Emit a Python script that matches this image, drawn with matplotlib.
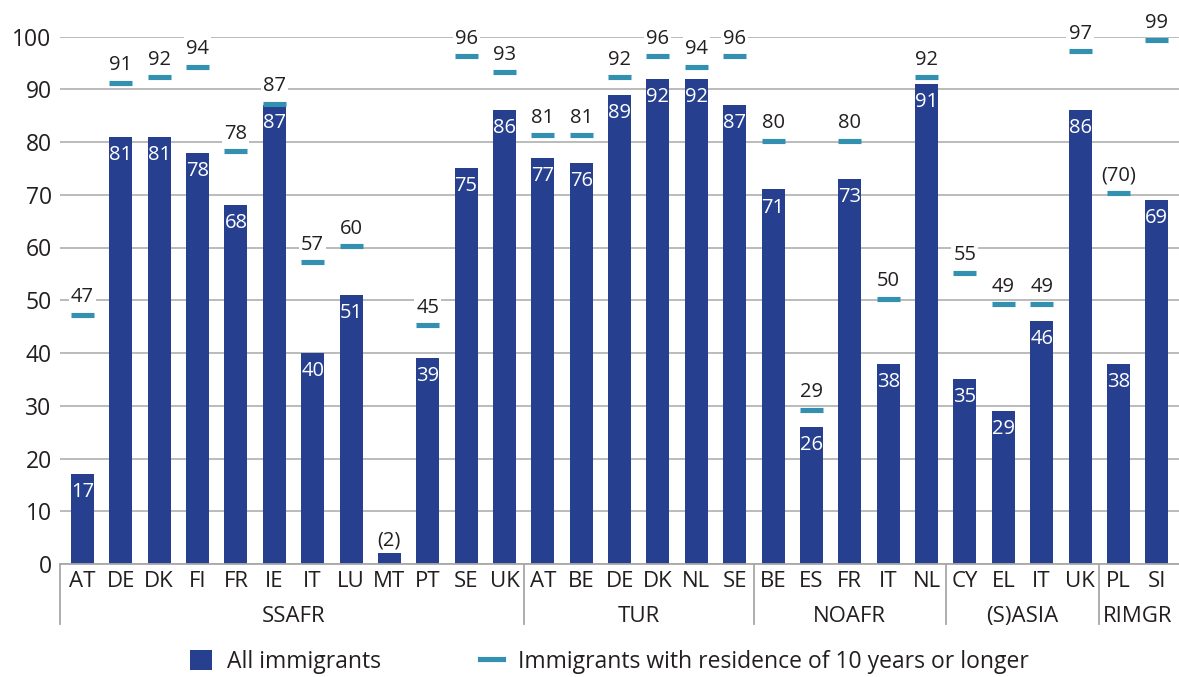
import matplotlib
matplotlib.use("Agg")
import matplotlib.pyplot as plt
from matplotlib.patches import Patch
from matplotlib.lines import Line2D

plt.rcParams["font.family"] = ["Open Sans", "DejaVu Sans"]

# data
groups = ["SSAFR", "TUR", "NOAFR", "(S)ASIA", "RIMGR"]
countries = [
    ["AT", "DE", "DK", "FI", "FR", "IE", "IT", "LU", "MT", "PT", "SE", "UK"],
    ["AT", "BE", "DE", "DK", "NL", "SE"],
    ["BE", "ES", "FR", "IT", "NL"],
    ["CY", "EL", "IT", "UK"],
    ["PL", "SI"],
]
all_immigrants = [17, 81, 81, 78, 68, 87, 40, 51, 2, 39, 75, 86,
                  77, 76, 89, 92, 92, 87,
                  71, 26, 73, 38, 91,
                  35, 29, 46, 86,
                  38, 69]
long_residence = [47, 91, 92, 94, 78, 87, 57, 60, None, 45, 96, 93,
                  81, 81, 92, 96, 94, 96,
                  80, 29, 80, 50, 92,
                  55, 49, 49, 97,
                  70, 99]
# values shown in brackets (low reliability)
bracketed_all = ["MT"]
bracketed_long = ["PL"]

BAR = "#263f8e"
DASH = "#3390b1"
GRID = "#a8a8a8"
TXT = "#231f20"

labels = [c for g in countries for c in g]
x = list(range(len(labels)))

fig = plt.figure(figsize=(11.79, 6.77), dpi=100)
ax = fig.add_axes([60 / 1179, 1 - 564 / 677, 1 - 60 / 1179, (564 - 36.5) / 677])

ax.set_axisbelow(True)
ax.yaxis.grid(True, color=GRID, linewidth=1.1)
ax.bar(x, all_immigrants, width=0.6, color=BAR, zorder=2)

for i, (v, lab) in enumerate(zip(all_immigrants, labels)):
    if lab in bracketed_all:
        ax.annotate(f"({v})", (i, v), xytext=(0, 9), textcoords="offset points",
                    ha="center", va="center", fontsize=14.5, color=TXT, zorder=4)
    else:
        ax.annotate(str(v), (i, v), xytext=(0, -13), textcoords="offset points",
                    ha="center", va="center", fontsize=14.5, color="white", zorder=4)

for i, v in enumerate(long_residence):
    if v is None:
        continue
    ax.hlines(v + 0.25, i - 0.3, i + 0.3, color=DASH, linewidth=3.7, zorder=3)
    txt = f"({v})" if labels[i] in bracketed_long else str(v)
    ax.annotate(txt, (i, v), xytext=(0, 13.5), textcoords="offset points",
                ha="center", va="center", fontsize=14.5, color=TXT, zorder=4,
                annotation_clip=False,
                bbox=dict(fc="white", ec="none", pad=1.5))

ax.set_ylim(0, 100)
ax.set_xlim(-0.585, len(labels) - 0.42)
ax.set_yticks(range(0, 101, 10))
ax.set_xticks(x)
ax.set_xticklabels(labels)
ax.tick_params(axis="both", length=0, labelsize=16, colors=TXT)
ax.tick_params(axis="x", pad=5)
ax.tick_params(axis="y", pad=6, labelsize=16.5)
for s in ["left", "right", "top"]:
    ax.spines[s].set_visible(False)
ax.spines["bottom"].set_color(GRID)
ax.spines["bottom"].set_linewidth(1.3)

# group separators and group names
trans = ax.get_xaxis_transform()
start = 0
edges = [-0.585]
for g, cs in zip(groups, countries):
    end = start + len(cs)
    ax.text((start + end - 1) / 2, -0.1, g, transform=trans, ha="center",
            va="center", fontsize=16, color=TXT)
    edges.append(end - 0.5)
    start = end
for e in edges[:-1]:
    ax.add_line(Line2D([e, e], [0, -0.114], transform=trans, color=GRID,
                       linewidth=1.3, clip_on=False))

handles = [
    Patch(facecolor=BAR, edgecolor="none", label="All immigrants"),
    Line2D([], [], color=DASH, linewidth=3.7,
           label="Immigrants with residence of 10 years or longer"),
]
fig.legend(handles=handles, loc="center", bbox_to_anchor=(0.5166, 1 - 662 / 677),
           ncol=2, frameon=False, fontsize=16.5, handlelength=1.0, handleheight=1.0,
           handletextpad=0.65, columnspacing=4.3, labelcolor=TXT, borderpad=0.2)

fig.savefig("out.png", dpi=100)
